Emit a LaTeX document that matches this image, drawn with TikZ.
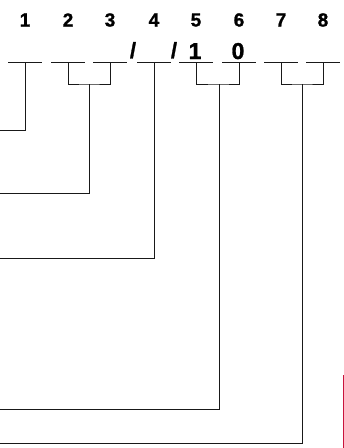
\documentclass[tikz,border=0pt]{standalone}
\usepackage{fontspec}
\setmainfont{Liberation Sans}
\newfontfamily\heavyfont{Liberation Sans Bold}[FakeBold=1.2]
\usetikzlibrary{calc}
\definecolor{crimson}{RGB}{200,20,60}

\begin{document}
\begin{tikzpicture}[
        x=1pt, y=-1pt,
        num/.style={font=\heavyfont\fontsize{19}{19}\selectfont, inner sep=0pt},
        entry/.style={font=\heavyfont\fontsize{23}{23}\selectfont, inner sep=0pt, anchor=base},
        slash/.style={font=\heavyfont\fontsize{22}{22}\selectfont, inner sep=0pt, anchor=base},
        blank/.style={line width=1pt, draw=black!90},
        lead/.style={line width=1pt, draw=black!90},
        marker/.style={line width=1pt, draw=crimson}
    ]
        \useasboundingbox (0,0) rectangle (344,448);

        % column numbers and blanks
        \foreach \i/\x in {1/25,2/68,3/110,4/154,5/196,6/239,7/281,8/323} {
            \node[num] (n\i) at (\x,20) {\i};
            \coordinate (u\i) at (\x,62);
            \draw[blank] ($(u\i)+(-17,0)$) -- ($(u\i)+(17,0)$);
        }

        % filled entries
        \node[slash] (s1) at (133,58) {/};
        \node[slash] (s2) at (174,58) {/};
        \node[entry] (d5) at (195,59) {1};
        \node[entry] (d6) at (238,59) {0};

        % bracket joins and lead ends
        \coordinate (j23) at (89,84);
        \coordinate (j56) at (219,84);
        \coordinate (j78) at (302,84);
        \coordinate (e1) at (0,130);
        \coordinate (e23) at (0,193);
        \coordinate (e4) at (0,258);
        \coordinate (e56) at (0,409);
        \coordinate (e78) at (0,443);

        \draw[lead] (u1) |- (e1);
        \draw[lead] (u2) |- (j23) -| (u3);
        \draw[lead] (j23) |- (e23);
        \draw[lead] (u4) |- (e4);
        \draw[lead] (u5) |- (j56) -| (u6);
        \draw[lead] (j56) |- (e56);
        \draw[lead] (u7) |- (j78) -| (u8);
        \draw[lead] (j78) |- (e78);

        % stray mark at the right edge
        \coordinate (m1) at (343,375);
        \coordinate (m2) at (343,448);
        \draw[marker] (m1) -- (m2);
    \end{tikzpicture}
\end{document}
